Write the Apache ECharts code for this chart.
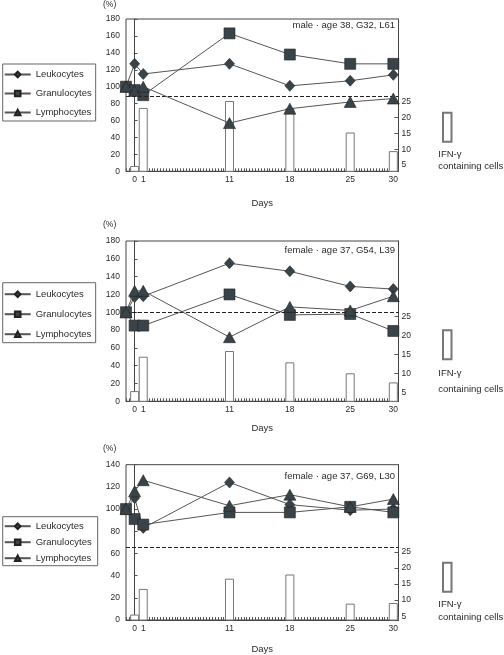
<!DOCTYPE html>
<html><head><meta charset="utf-8">
<script src="https://cdn.jsdelivr.net/npm/echarts@6/dist/echarts.min.js"></script>
<style>html,body{margin:0;padding:0;background:#fff}#c{width:504px;height:655px}</style>
</head><body><div id="c"></div>
<script>
// ---- data ----
// day -1 = baseline (pre-treatment, 100 %)
const days = [-1, 0, 1, 11, 18, 25, 30];
const barDays = [0, 1, 11, 18, 25, 30];
const xTickLabels = [0, 1, 11, 18, 25, 30];
const rightTickLabels = [5, 10, 15, 20, 25];
const seriesNames = ['Leukocytes', 'Granulocytes', 'Lymphocytes'];
const ifnName = 'IFN-\u03b3 containing cells';
const panelTitles = ['male \u00b7 age 38, G32, L61', 'female \u00b7 age 37, G54, L39', 'female \u00b7 age 37, G69, L30'];

const leuk1 = [100, 127, 115, 127, 101, 107, 114];
const gran1 = [100, 96, 90, 163, 138, 127, 127];
const lymph1 = [100, 95, 100, 57, 74, 82, 86];
const ifn1 = [4.7, 23.1, 25.3, 23, 15.3, 9.4];

const leuk2 = [100, 117, 118, 155, 146, 129, 126];
const gran2 = [100, 85, 85, 120, 97, 98, 79];
const lymph2 = [100, 124, 124, 72, 106, 102, 118];
const ifn2 = [5.3, 14.4, 15.9, 12.9, 10, 7.6];

const leuk3 = [100, 110, 83, 124, 104, 99, 100];
const gran3 = [100, 91, 86, 97, 97, 102, 97];
const lymph3 = [100, 116, 126, 103, 113, 102, 109];
const ifn3 = [5.5, 13.5, 16.7, 18, 8.9, 9.1];

const refLine = [89, 100, 66];
const leftMax = [180, 180, 140];

// ---- layout ----
const FONT = '"Liberation Sans", Arial, sans-serif';
const TXT = '#2a2a2a';
const AX = '#444';
const layout = [
  {top: 19, height: 152.3, rmin: 3.0, rmax: 51.3, nameGap: 27, lgTop: 64, lgPad: [5, 4, 3, 1], lgGap: 8, ifnTop: 111.7, ifnT1: 155.3, ifnT2: 167.3, titleY: 26, pctY: 5},
  {top: 241, height: 160.3, rmin: 2.6, rmax: 45, nameGap: 22, lgTop: 282.7, lgPad: [6, 4, 3, 1], lgGap: 9, ifnTop: 329.3, ifnT1: 374, ifnT2: 390, titleY: 251.7, pctY: 225},
  {top: 464.7, height: 157.6, rmin: 3.8, rmax: 52.3, nameGap: 24, lgTop: 516.7, lgPad: [4, 6, 2, 1], lgGap: 5, ifnTop: 561.7, ifnT1: 605, ifnT2: 618.3, titleY: 477.3, pctY: 449}
];
const panels = [
  {leuk: leuk1, gran: gran1, lymph: lymph1, ifn: ifn1},
  {leuk: leuk2, gran: gran2, lymph: lymph2, ifn: ifn2},
  {leuk: leuk3, gran: gran3, lymph: lymph3, ifn: ifn3}
];
const symbols = ['diamond', 'rect', 'triangle'];
const symSizes = [[10, 11], 11, [12, 11]];

const grid = [], xAxis = [], yAxis = [], series = [], legend = [], graphic = [];
panels.forEach((p, i) => {
  const L = layout[i];
  grid.push({left: 126, right: 105.5, top: L.top, height: L.height, show: true, borderColor: AX, borderWidth: 1, backgroundColor: 'transparent'});
  xAxis.push({
    type: 'value', gridIndex: i, min: -1, max: 30.6, interval: 1,
    axisLine: {show: true, onZero: false, lineStyle: {color: AX, width: 1}},
    axisTick: {show: true, inside: true, length: 3, lineStyle: {color: '#555', width: 1}},
    minorTick: {show: true, splitNumber: 3, length: 3, lineStyle: {color: '#555', width: 1}},
    axisLabel: {customValues: xTickLabels, fontSize: 8.5, color: TXT, fontFamily: FONT, margin: 4},
    splitLine: {show: false}, minorSplitLine: {show: false},
    name: 'Days', nameLocation: 'middle', nameGap: L.nameGap,
    nameTextStyle: {fontSize: 9.5, color: TXT, fontFamily: FONT}
  });
  yAxis.push({
    type: 'value', gridIndex: i, min: 0, max: leftMax[i], interval: 20, position: 'left',
    axisLine: {show: true, lineStyle: {color: AX, width: 1}},
    axisTick: {show: true, inside: true, length: 3, lineStyle: {color: '#555'}},
    axisLabel: {fontSize: 8.5, color: TXT, fontFamily: FONT, margin: 6},
    splitLine: {show: false}
  });
  yAxis.push({
    type: 'value', gridIndex: i, min: L.rmin, max: L.rmax, position: 'right',
    axisLine: {show: true, lineStyle: {color: AX, width: 1}},
    axisTick: {show: true, inside: true, length: 4, customValues: rightTickLabels, lineStyle: {color: '#555'}},
    axisLabel: {customValues: rightTickLabels, fontSize: 8.5, color: TXT, fontFamily: FONT, margin: 3},
    splitLine: {show: false}
  });
  // bars (IFN-gamma containing cells) on right axis
  series.push({
    type: 'bar', name: ifnName, xAxisIndex: i, yAxisIndex: 2 * i + 1,
    data: barDays.map((d, k) => [d, p.ifn[k]]),
    barWidth: 9, z: 1,
    itemStyle: {color: '#ffffff', borderColor: '#777', borderWidth: 1},
    emphasis: {disabled: true}
  });
  [p.leuk, p.gran, p.lymph].forEach((vals, s) => {
    const ser = {
      type: 'line', name: seriesNames[s], xAxisIndex: i, yAxisIndex: 2 * i,
      data: days.map((d, k) => [d, vals[k]]),
      symbol: symbols[s], symbolSize: symSizes[s], z: 3 + s,
      lineStyle: {color: '#555', width: 1},
      itemStyle: {color: '#39434a', borderColor: '#222', borderWidth: 0.6},
      emphasis: {disabled: true}, animation: false
    };
    if (s === 0) {
      ser.markLine = {
        silent: true, symbol: ['none', 'none'], label: {show: false},
        lineStyle: {type: [4, 2], color: '#222', width: 1},
        data: [{yAxis: refLine[i]}]
      };
    }
    series.push(ser);
  });
  legend.push({
    data: seriesNames, orient: 'vertical', left: 2.7, top: L.lgTop,
    padding: L.lgPad, itemGap: L.lgGap, itemWidth: 26, itemHeight: 7,
    borderColor: '#666', borderWidth: 1, selectedMode: false,
    textStyle: {fontSize: 9.5, color: TXT, fontFamily: FONT, lineHeight: 11}
  });
  legend.push({
    data: [ifnName], left: 442, top: L.ifnTop, padding: 0, icon: 'rect',
    itemWidth: 8.5, itemHeight: 29, selectedMode: false,
    formatter: () => '', textStyle: {fontSize: 1}
  });
  graphic.push({type: 'text', left: 103, top: L.pctY - 5,
    style: {text: '(%)', fill: TXT, font: '8.5px ' + FONT}});
  graphic.push({type: 'text', right: 504 - 395, top: L.titleY - 6,
    style: {text: panelTitles[i], fill: TXT, font: '9.5px ' + FONT, textAlign: 'right'}});
  graphic.push({type: 'text', left: 438.3, top: L.ifnT1 - 6,
    style: {text: 'IFN-\u03b3', fill: TXT, font: '9.5px ' + FONT}});
  graphic.push({type: 'text', left: 438.3, top: L.ifnT2 - 6,
    style: {text: 'containing cells', fill: TXT, font: '9.5px ' + FONT}});
});

const chart = echarts.init(document.getElementById('c'), null, {renderer: 'canvas'});
chart.setOption({
  animation: false, backgroundColor: '#fff',
  textStyle: {fontFamily: FONT},
  grid, xAxis, yAxis, series, legend, graphic
});
</script></body></html>
